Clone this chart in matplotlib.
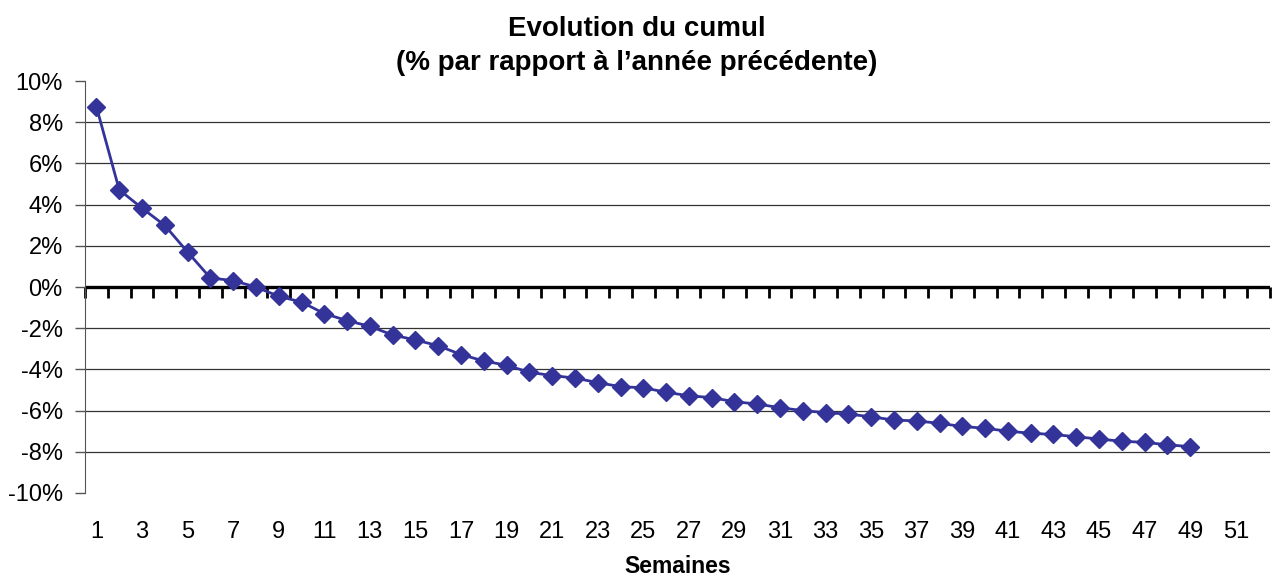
import matplotlib
matplotlib.use("Agg")
import matplotlib.pyplot as plt
from matplotlib.ticker import FuncFormatter

plt.rcParams['font.family'] = ['Liberation Sans', 'DejaVu Sans']

# semaines et evolution du cumul (% vs annee precedente)
semaines = list(range(1, 50))
evolution = [8.75, 4.72, 3.83, 2.99, 1.70, 0.44, 0.31, 0.00, -0.45, -0.73,
             -1.29, -1.63, -1.91, -2.33, -2.57, -2.85, -3.28, -3.59, -3.80, -4.14,
             -4.30, -4.42, -4.64, -4.84, -4.89, -5.11, -5.28, -5.37, -5.57, -5.68,
             -5.86, -6.00, -6.10, -6.17, -6.30, -6.46, -6.50, -6.62, -6.77, -6.86,
             -7.00, -7.10, -7.16, -7.27, -7.38, -7.49, -7.54, -7.66, -7.75]
nb_semaines = 52
y_ticks = list(range(-10, 11, 2))

fig = plt.figure(figsize=(12.73, 5.83), dpi=100)
ax = fig.add_axes([0.0668, 0.1544, 0.9308, 0.7066])

# grille horizontale (pas aux bords ni a 0)
for v in y_ticks[1:-1]:
    if v != 0:
        ax.axhline(v, color='#333333', lw=0.9, zorder=1)

ax.plot(semaines, evolution, color='#333399', lw=2, marker='D',
        markersize=9, zorder=3)

ax.set_xlim(0.5, nb_semaines + 0.5)
ax.set_ylim(-10, 10)
ax.set_yticks(y_ticks)
ax.yaxis.set_major_formatter(FuncFormatter(lambda v, p: f"{v:.0f}%"))
ax.tick_params(axis='y', direction='out', length=7, width=1, color='#555555',
               labelsize=17, pad=9)

ax.set_xticks(list(range(1, nb_semaines + 1, 2)))
ax.tick_params(axis='x', length=0, labelsize=17, pad=20)

for s in ['top', 'right', 'bottom']:
    ax.spines[s].set_visible(False)
ax.spines['left'].set_color('#555555')

# axe des x a 0 avec graduations entre categories
sec = ax.secondary_xaxis(0.5)
sec.set_xticks([i + 0.5 for i in range(0, nb_semaines + 1)])
sec.set_xticklabels([])
sec.tick_params(direction='in', length=8, width=2, color='black')
sec.spines['bottom'].set_visible(False)
sec.spines['top'].set_visible(False)
ax.axhline(0, color='black', lw=2.4, zorder=2)

ax.set_xlabel('Semaines', fontsize=16.5, fontweight='bold', labelpad=9)

fig.text(0.5, 0.972, "Evolution du cumul\n(% par rapport à l’année précédente)",
         ha='center', va='top', fontsize=20, fontweight='bold', linespacing=1.4)

fig.savefig('out.png', dpi=100)
